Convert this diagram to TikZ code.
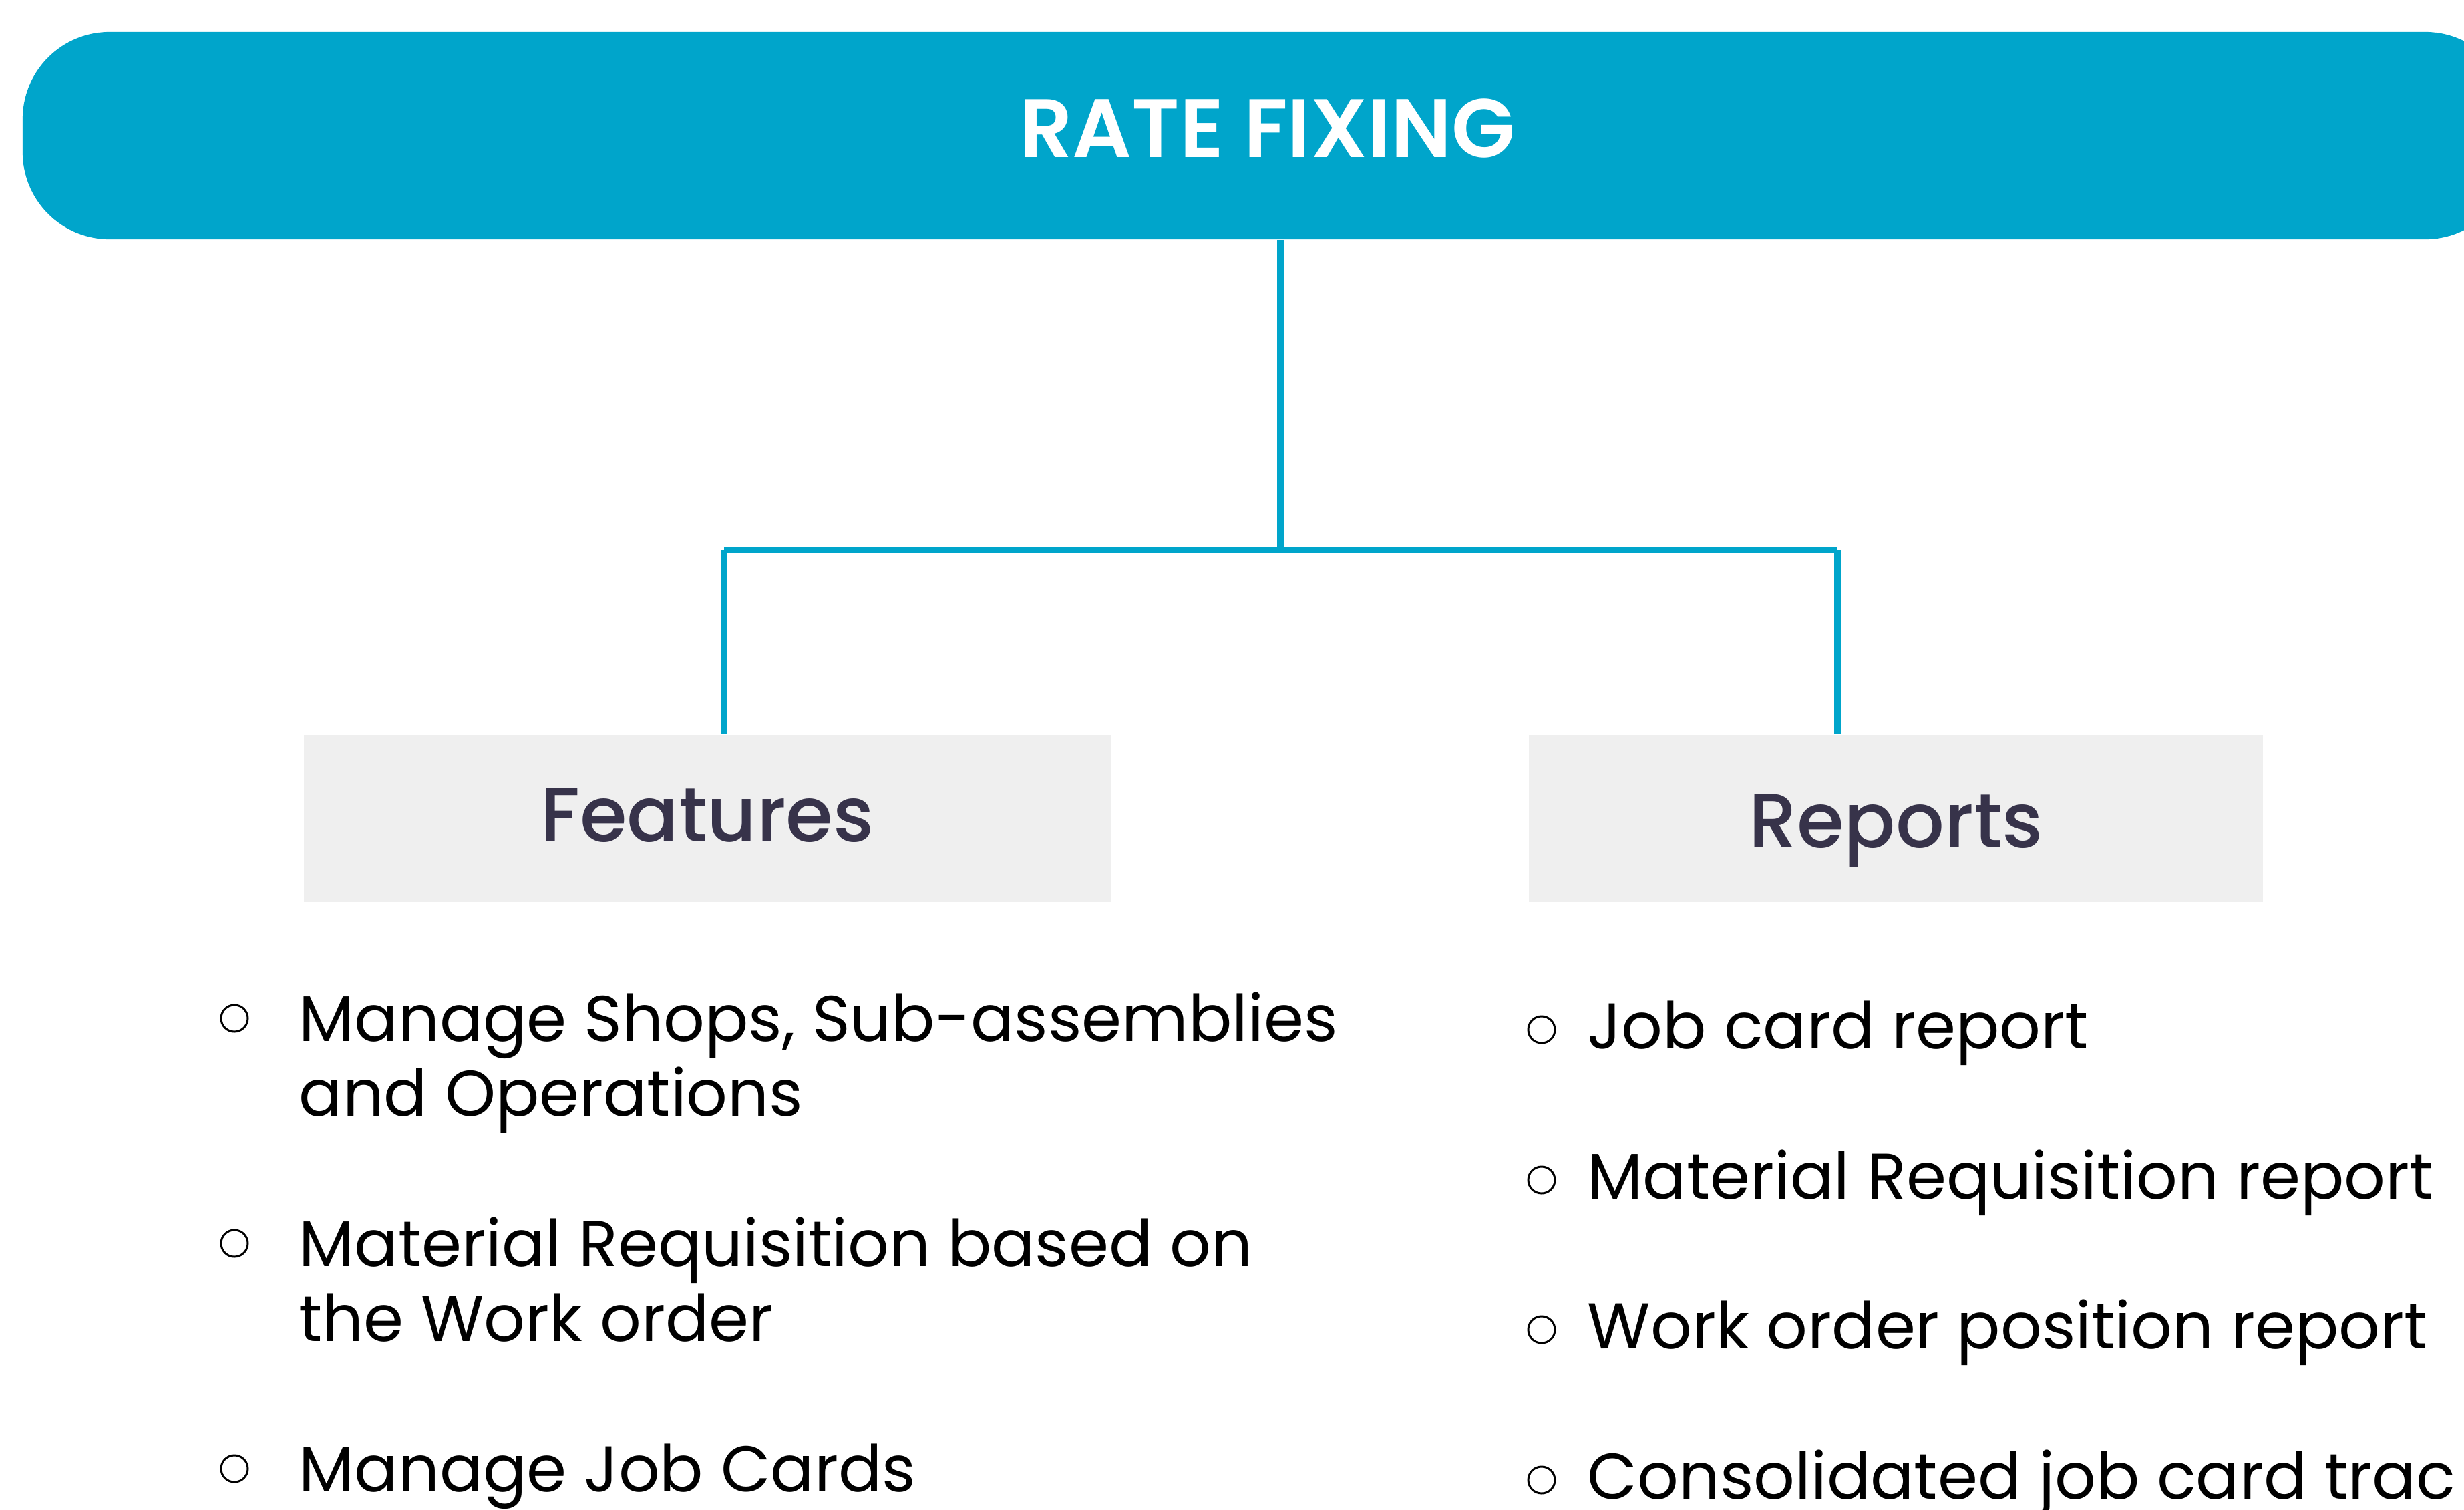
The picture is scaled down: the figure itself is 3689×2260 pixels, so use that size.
\documentclass[tikz,border=0pt]{standalone}
\usepackage{fontspec}
\usetikzlibrary{calc}
\setmainfont{Poppins}
\newfontfamily\poppinssemi{Poppins SemiBold}
\newfontfamily\poppinsmed{Poppins Medium}
\definecolor{rfblue}{RGB}{0,165,203}
\definecolor{hdrgray}{RGB}{239,239,239}
\definecolor{hdrtext}{RGB}{55,51,74}
\tikzset{
  banner/.style={fill=rfblue, rounded corners=1.3cm, inner sep=0pt,
    minimum width=37.25cm, minimum height=3.1cm, text=white,
    font=\poppinssemi\fontsize{35.3pt}{40pt}\selectfont,
    text height=0.87cm, text depth=0.23cm},
  hdrbox/.style={fill=hdrgray, inner sep=0pt, minimum width=#1, minimum height=2.5cm,
    text=hdrtext, font=\poppinsmed\fontsize{32.5pt}{38pt}\selectfont},
  conn/.style={draw=rfblue, line width=2.6pt},
  itemtext/.style={anchor=base west, inner sep=0pt, text=black,
    font=\fontsize{27.5pt}{31.9pt}\selectfont},
  bulletmark/.style={circle, draw=black, line width=0.85pt, minimum size=0.40cm, inner sep=0pt}
}
\begin{document}
\begin{tikzpicture}[x=0.01cm,y=-0.01cm]
\useasboundingbox (0,0) rectangle (3689,2260);
\clip (0,0) rectangle (3689,2260);

% title banner
\node[banner] (title) at (1897.5,203) {RATE FIXING};

% header boxes
\node[hdrbox=12.08cm, text height=0.8cm, text depth=0.12cm] (feat) at (1059,1225) {Features};
\node[hdrbox=10.99cm, text height=0.9cm, text depth=0.04cm] (rep) at (2838.5,1225) {Reports};

% connectors
\coordinate (jc) at (1917,823);
\coordinate (jl) at (1084,823);
\coordinate (jr) at (2751,823);
\draw[conn] (jc |- title.south) -- (jc);
\draw[conn] (jl) -- (jr);
\draw[conn] (jl) -- (jl |- feat.north);
\draw[conn] (jr) -- (jr |- rep.north);

% feature items
\node[itemtext] (f1) at (447,1558) {\vtop{\hbox{Manage Shops, Sub-assemblies}\hbox{and Operations}}};
\node[itemtext] (f2) at (447,1895) {\vtop{\hbox{Material Requisition based on}\hbox{the Work order}}};
\node[itemtext] (f3) at (447,2232) {Manage Job Cards};
\foreach \i in {1,2,3}{
  \node[bulletmark] (fb\i) at ($(f\i.base west)+(-96,-34)$) {};
}

% report items
\node[itemtext] (r1) at (2376,1569) {Job card report};
\node[itemtext] (r2) at (2376,1794) {Material Requisition report};
\node[itemtext] (r3) at (2376,2018) {Work order position report};
\node[itemtext] (r4) at (2376,2243) {Consolidated job card trac};
\foreach \i in {1,2,3,4}{
  \node[bulletmark] (rb\i) at ($(r\i.base west)+(-68,-28)$) {};
}
\end{tikzpicture}
\end{document}
